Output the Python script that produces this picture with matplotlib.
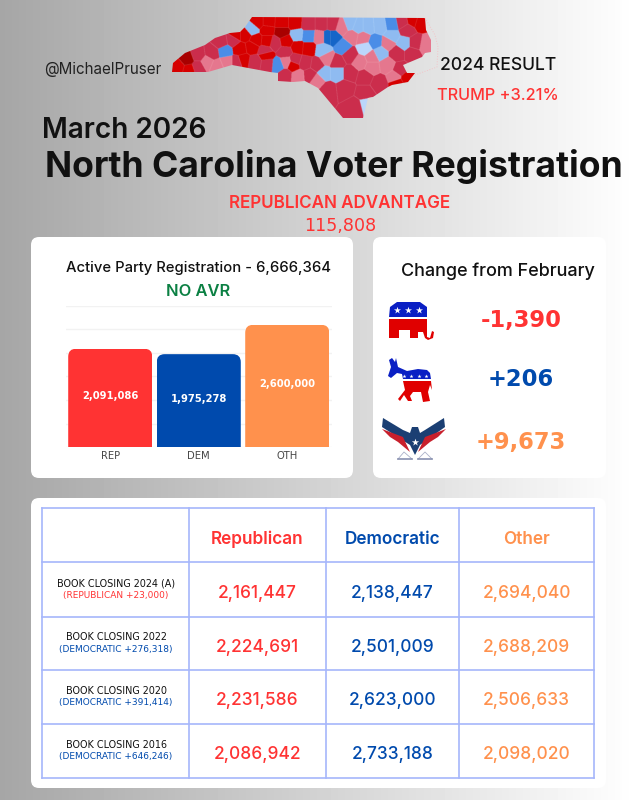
import matplotlib
matplotlib.use("Agg")
import matplotlib.pyplot as plt
import numpy as np
from matplotlib.patches import FancyBboxPatch, Polygon

W, H = 637, 800
FONT = "Inter"

RED = "#ff3333"
BLUE = "#004aad"
ORANGE = "#ff914d"
GRID_BLUE = "#a6b6fb"

# bar chart
parties = ["REP", "DEM", "OTH"]
active = [2091086, 1975278, 2600000]
active_labels = ["2,091,086", "1,975,278", "2,600,000"]
bar_colors = [RED, BLUE, ORANGE]
y_ticks = [0, 500000, 1000000, 1500000, 2000000, 2500000, 3000000]

# change card
changes = ["-1,390", "+206", "+9,673"]
change_colors = [RED, BLUE, ORANGE]

# table
columns = ["Republican", "Democratic", "Other"]
rows = ["BOOK CLOSING 2024 (A)", "BOOK CLOSING 2022", "BOOK CLOSING 2020", "BOOK CLOSING 2016"]
margins = ["(REPUBLICAN +23,000)", "(DEMOCRATIC +276,318)", "(DEMOCRATIC +391,414)", "(DEMOCRATIC +646,246)"]
margin_colors = [RED, BLUE, BLUE, BLUE]
rep_values = ["2,161,447", "2,224,691", "2,231,586", "2,086,942"]
dem_values = ["2,138,447", "2,501,009", "2,623,000", "2,733,188"]
oth_values = ["2,694,040", "2,688,209", "2,506,633", "2,098,020"]
col_x = [42, 189, 326, 459, 594]
row_y = [508, 562, 617, 670, 724, 778]

# map, in pixels of the picture
C = {"r": "#d60000", "m": "#cb2d4c", "p": "#e6788e", "l": "#8fbcf2", "b": "#4a8de8",
     "d": "#1565c8", "v": "#bcd6fb", "k": "#a80000"}
outline = [(172, 72), (173, 63), (185, 53), (205, 45), (215, 38), (230, 33), (240, 32), (245, 27), (252, 17),
           (425, 18), (426, 30), (431, 40), (431, 52), (425, 53), (422, 57), (403, 65), (407, 73), (415, 73),
           (408, 82), (392, 85), (388, 87), (373, 97), (368, 98), (363, 118), (343, 118), (318, 88),
           (305, 81), (293, 82), (278, 81), (278, 73), (270, 72), (232, 65), (208, 72)]
banks = [(425, 18), (435, 35), (438, 47), (437, 67), (415, 75)]
counties = [(178, 67, "r"), (187, 59, "k"), (189, 70, "r"), (198, 67, "m"), (198, 55, "m"), (212, 53, "m"),
            (207, 62, "p"), (217, 66, "p"), (227, 62, "p"), (225, 51, "b"), (221, 42, "m"), (233, 40, "m"),
            (236, 35, "r"), (245, 35, "r"), (252, 29, "l"), (258, 22, "r"), (268, 22, "r"), (282, 23, "r"),
            (295, 23, "r"), (282, 32, "k"), (267, 30, "r"), (256, 40, "r"), (267, 41, "r"), (240, 49, "r"),
            (252, 47, "r"), (265, 51, "m"), (275, 43, "m"), (286, 41, "r"), (297, 35, "l"), (298, 47, "r"),
            (285, 52, "m"), (295, 60, "m"), (237, 62, "m"), (243, 60, "r"), (255, 62, "m"), (267, 64, "m"),
            (266, 55, "r"), (278, 65, "b"), (285, 75, "m"), (286, 62, "p"), (298, 76, "p"), (293, 65, "r"),
            (305, 63, "m"), (308, 24, "m"), (322, 24, "m"), (332, 24, "m"), (342, 27, "p"), (350, 24, "l"),
            (358, 27, "l"), (368, 27, "l"), (380, 26, "l"), (392, 24, "b"), (402, 22, "m"), (413, 20, "r"),
            (420, 22, "r"), (407, 30, "m"), (392, 36, "l"), (404, 43, "l"), (415, 43, "m"), (426, 45, "p"),
            (375, 42, "b"), (363, 38, "p"), (352, 36, "p"), (365, 48, "v"), (343, 47, "b"), (333, 37, "d"),
            (328, 37, "d"), (320, 37, "p"), (308, 36, "b"), (323, 50, "l"), (308, 48, "r"), (388, 43, "p"),
            (380, 53, "l"), (350, 55, "m"), (327, 58, "p"), (337, 62, "m"), (317, 65, "m"), (360, 62, "p"),
            (372, 57, "p"), (372, 67, "p"), (387, 65, "p"), (397, 53, "m"), (412, 53, "m"), (400, 70, "m"),
            (350, 73, "m"), (337, 73, "l"), (324, 73, "l"), (317, 80, "p"), (310, 75, "m"), (365, 77, "m"),
            (379, 83, "m"), (395, 77, "p"), (407, 78, "r"), (397, 83, "r"), (328, 90, "m"), (345, 88, "m"),
            (365, 93, "m"), (355, 107, "m"), (367, 104, "v")]

fig = plt.figure(figsize=(W / 100, H / 100), dpi=100)
ax = fig.add_axes([0, 0, 1, 1])
ax.set_xlim(0, W)
ax.set_ylim(H, 0)
ax.axis("off")

# grey to white background
shade = np.linspace(0.65, 1.0, W)[None, :]
ax.imshow(shade, cmap="gray", vmin=0, vmax=1, extent=(0, W, H, 0), aspect="auto", zorder=0)


def txt(x, y, s, size, color="#111111", weight="normal", ha="center", family=FONT, **kw):
    # size is in pixels
    return ax.text(x, y, s, fontsize=size * 0.72, color=color, fontweight=weight, ha=ha, va="center",
                   family=family, zorder=6, **kw)


def card(x0, y0, x1, y1, r=8):
    ax.add_patch(FancyBboxPatch((x0 + r, y0 + r), x1 - x0 - 2 * r, y1 - y0 - 2 * r,
                                boxstyle=f"round,pad={r},rounding_size={r}", fc="white", ec="none", zorder=1))


# map as nearest county raster clipped to the state outline
scale = 3
x0, x1, y0, y1 = 165, 445, 10, 120
gy, gx = np.mgrid[y0:y1:1 / scale, x0:x1:1 / scale]
cx = np.array([c[0] for c in counties])
cy = np.array([c[1] for c in counties])
nearest = np.argmin((gx[..., None] - cx) ** 2 + (gy[..., None] - cy) ** 2, axis=-1)
rgb = np.array([matplotlib.colors.to_rgb(C[c[2]]) for c in counties])
img = rgb[nearest]
edge = np.zeros(nearest.shape, bool)
edge[:-1, :] |= nearest[:-1, :] != nearest[1:, :]
edge[:, :-1] |= nearest[:, :-1] != nearest[:, 1:]
img[edge] = img[edge] * 0.7 + 0.3
state = Polygon(outline, closed=True, transform=ax.transData, fc="none", ec="none")
ax.add_patch(state)
m = ax.imshow(img, extent=(x0, x1, y1, y0), aspect="auto", zorder=2, interpolation="bilinear")
m.set_clip_path(state)
ax.plot([p[0] for p in banks], [p[1] for p in banks], color="#f2c4c8", lw=0.7, ls=":", zorder=2)
ax.set_xlim(0, W)
ax.set_ylim(H, 0)

# header
txt(44, 69, "@MichaelPruser", 15.2, "#222222", ha="left")
txt(498, 65, "2024 RESULT", 17.5, "#111111", "medium")
txt(498, 95, "TRUMP +3.21%", 16.3, RED, "medium")
txt(42, 131, "March 2026", 28, "#111111", "semibold", ha="left")
txt(334, 167, "North Carolina Voter Registration", 35.6, "#111111", "bold")
txt(340, 204, "REPUBLICAN ADVANTAGE", 17, RED, "semibold")
txt(340, 226, "115,808", 17.5, RED, "normal", family="DejaVu Sans")

# registration card
card(31, 237, 353, 478)
txt(198, 268, "Active Party Registration - 6,666,364", 14.8, "#111111", "medium")
txt(198, 292, "NO AVR", 16.5, "#0b8043", "semibold")

bar_ax = fig.add_axes([66 / W, 1 - 447 / H, 265.5 / W, 141 / H], zorder=3)
bar_ax.patch.set_alpha(0)
bar_ax.set_xlim(-0.5, 2.5)
bar_ax.set_ylim(0, 3000000)
for spine in bar_ax.spines.values():
    spine.set_visible(False)
bar_ax.set_yticks(y_ticks)
bar_ax.set_yticklabels([])
bar_ax.tick_params(length=0)
bar_ax.grid(axis="y", color="#f2f2f2", lw=1)
bar_ax.set_axisbelow(True)
bars = bar_ax.bar(parties, active, width=0.95, color=bar_colors)
bar_ax.tick_params(axis="x", labelsize=7.2, labelcolor="#444444", pad=3)
for b, label in zip(bars, active_labels):
    rx = 0.09
    rounded = FancyBboxPatch((b.get_x(), -400000), b.get_width(), b.get_height() + 400000,
                             boxstyle=f"round,pad=0,rounding_size={rx}", mutation_aspect=170000 / rx,
                             transform=bar_ax.transData, fc="none", ec="none")
    bar_ax.add_patch(rounded)
    rounded.set_clip_on(False)
    b.set_clip_path(rounded)
    bar_ax.text(b.get_x() + b.get_width() / 2, b.get_height() / 2 + 30000, label, color="white", fontsize=7.2,
                fontweight="bold", ha="center", va="center", family="DejaVu Sans")

# change card
card(373, 237, 606, 478)
txt(498, 271, "Change from February", 18, "#111111", "medium")
for y, s, c in zip([321, 380, 442], changes, change_colors):
    txt(521, y, s, 22.6, c, "bold", family="DejaVu Sans")

# elephant
ele_blue = "#0a1fc4"
ele_red = "#e00000"
ax.add_patch(Polygon([(389, 317), (390, 307), (397, 302), (420, 302), (427, 307), (427, 317)],
                     fc=ele_blue, ec="none", zorder=3))
ax.add_patch(Polygon([(389, 319), (427, 319), (427, 337), (430, 338), (432, 331), (434, 332), (433, 338),
                      (428, 340), (425, 338), (423, 332), (418, 332), (418, 338), (410, 338), (410, 330),
                      (399, 330), (399, 338), (389, 338)], fc=ele_red, ec="none", zorder=3))
ax.scatter([397, 408, 419], [310, 310, 310], marker="*", s=28, c="white", linewidths=0, zorder=4)

# donkey
ax.add_patch(Polygon([(392, 358), (395, 362), (396, 358), (398, 367), (407, 371), (418, 369), (427, 370),
                      (430, 373), (431, 379), (403, 379), (402, 374), (397, 373), (391, 378), (388, 376),
                      (391, 367), (389, 360)], fc=ele_blue, ec="none", zorder=3))
ax.add_patch(Polygon([(403, 381), (431, 381), (432, 390), (430, 385), (428, 392), (430, 401), (423, 402),
                      (421, 392), (413, 392), (410, 396), (412, 401), (408, 401), (404, 395), (400, 401),
                      (398, 399), (405, 390)], fc=ele_red, ec="none", zorder=3))
ax.scatter([404, 411, 419, 426], [376, 376, 376, 376], marker="*", s=9, c="white", linewidths=0, zorder=4)

# eagle
navy = "#1b3f73"
eagle_red = "#c8202c"
ax.add_patch(Polygon([(383, 418), (403, 430), (410, 433), (412, 427), (418, 427), (420, 433), (425, 430),
                      (444, 418), (445, 427), (420, 445), (415, 455), (410, 445), (382, 427)],
                     fc=navy, ec="none", zorder=3))
ax.add_patch(Polygon([(382, 429), (403, 437), (410, 452), (398, 442), (390, 437)], fc=eagle_red, ec="none", zorder=4))
ax.add_patch(Polygon([(446, 429), (425, 437), (418, 452), (430, 442), (438, 437)], fc=eagle_red, ec="none", zorder=4))
ax.scatter([415], [442], marker="*", s=30, c="white", linewidths=0, zorder=5)
for xa, xb, xc in [(398, 404, 412), (418, 425, 432)]:
    ax.plot([xa, xb, xc], [459, 452, 459], color="#aab0c8", lw=0.6, zorder=4)
    ax.plot([xa, xc], [459, 459], color="#8890b0", lw=1.2, zorder=4)

# table card
card(31, 498, 606, 788)
for x in col_x:
    ax.plot([x, x], [row_y[0], row_y[-1]], color=GRID_BLUE, lw=1.2, zorder=3, solid_capstyle="projecting")
for y in row_y:
    ax.plot([col_x[0], col_x[-1]], [y, y], color=GRID_BLUE, lw=1.2, zorder=3, solid_capstyle="projecting")

centers = [(col_x[i] + col_x[i + 1]) / 2 for i in range(1, 4)]
col_colors = [RED, BLUE, ORANGE]
for xc, name, c in zip(centers, columns, col_colors):
    txt(xc, 539, name, 17.2, c, "semibold")
for i in range(4):
    yc = (row_y[i + 1] + row_y[i + 2]) / 2
    txt(116, yc - 6, rows[i], 9.6, "#111111", family="DejaVu Sans")
    txt(116, yc + 6, margins[i], 9.0, margin_colors[i], family="DejaVu Sans")
    for xc, vals, c in zip(centers, [rep_values, dem_values, oth_values], col_colors):
        txt(xc, yc + 3.5, vals[i], 17.3, c, "medium")

fig.savefig("out.png", dpi=100)
